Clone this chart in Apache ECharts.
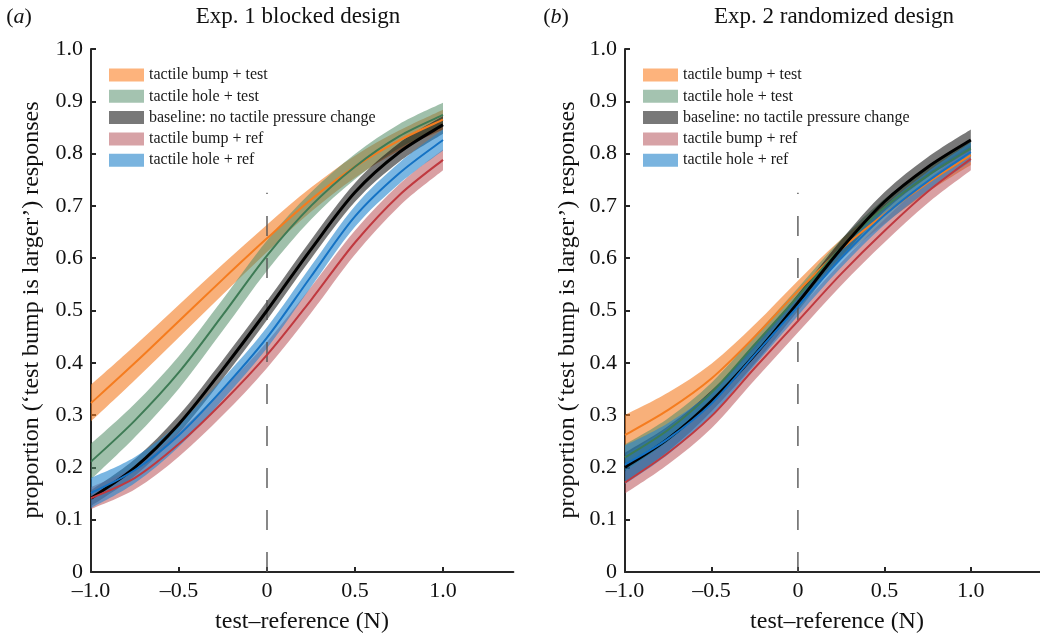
<!DOCTYPE html>
<html><head><meta charset="utf-8">
<script src="https://cdn.jsdelivr.net/npm/echarts@6/dist/echarts.min.js"></script>
<style>html,body{margin:0;padding:0;background:#fff}#c{width:1040px;height:636px}</style>
</head><body><div id="c"></div>
<script>
// ---------- data ----------
const xs = [-1, -0.75, -0.5, -0.25, 0, 0.25, 0.5, 0.75, 1];
const names = ['tactile bump + test', 'tactile hole + test', 'baseline: no tactile pressure change', 'tactile bump + ref', 'tactile hole + ref'];
const xTicks = [-1, -0.5, 0, 0.5, 1];
const refX = [0, 0];
const refY = [0, 0.725];

// Panel (a) Exp. 1 blocked design
const bumpTestA_mid = [0.323, 0.400, 0.480, 0.560, 0.638, 0.712, 0.775, 0.825, 0.865];
const bumpTestA_lo  = [0.288, 0.367, 0.449, 0.531, 0.612, 0.689, 0.754, 0.806, 0.846];
const bumpTestA_hi  = [0.358, 0.433, 0.511, 0.589, 0.664, 0.735, 0.796, 0.844, 0.884];
const holeTestA_mid = [0.211, 0.290, 0.382, 0.492, 0.605, 0.700, 0.775, 0.833, 0.874];
const holeTestA_lo  = [0.177, 0.258, 0.351, 0.462, 0.576, 0.674, 0.751, 0.810, 0.851];
const holeTestA_hi  = [0.245, 0.322, 0.413, 0.522, 0.634, 0.726, 0.799, 0.856, 0.897];
const baseA_mid     = [0.141, 0.200, 0.283, 0.388, 0.500, 0.617, 0.726, 0.802, 0.855];
const baseA_lo      = [0.126, 0.184, 0.266, 0.370, 0.482, 0.599, 0.708, 0.784, 0.838];
const baseA_hi      = [0.156, 0.216, 0.300, 0.406, 0.518, 0.635, 0.744, 0.820, 0.872];
const bumpRefA_mid  = [0.141, 0.180, 0.245, 0.325, 0.415, 0.520, 0.630, 0.720, 0.788];
const bumpRefA_lo   = [0.120, 0.158, 0.221, 0.300, 0.390, 0.495, 0.607, 0.699, 0.768];
const bumpRefA_hi   = [0.162, 0.202, 0.269, 0.350, 0.440, 0.545, 0.653, 0.741, 0.808];
const holeRefA_mid  = [0.151, 0.195, 0.262, 0.350, 0.448, 0.565, 0.680, 0.762, 0.826];
const holeRefA_lo   = [0.122, 0.170, 0.240, 0.330, 0.428, 0.545, 0.660, 0.742, 0.806];
const holeRefA_hi   = [0.180, 0.220, 0.284, 0.370, 0.468, 0.585, 0.700, 0.782, 0.846];

// Panel (b) Exp. 2 randomized design
const bumpTestB_mid = [0.262, 0.310, 0.370, 0.450, 0.537, 0.617, 0.684, 0.744, 0.797];
const bumpTestB_lo  = [0.224, 0.277, 0.342, 0.427, 0.517, 0.598, 0.666, 0.726, 0.778];
const bumpTestB_hi  = [0.300, 0.343, 0.398, 0.473, 0.557, 0.636, 0.702, 0.762, 0.816];
const holeTestB_mid = [0.219, 0.272, 0.343, 0.435, 0.527, 0.620, 0.697, 0.758, 0.810];
const holeTestB_lo  = [0.194, 0.250, 0.324, 0.418, 0.511, 0.604, 0.681, 0.742, 0.794];
const holeTestB_hi  = [0.244, 0.294, 0.362, 0.452, 0.543, 0.636, 0.713, 0.774, 0.826];
const baseB_mid     = [0.200, 0.255, 0.327, 0.415, 0.515, 0.618, 0.708, 0.774, 0.826];
const baseB_lo      = [0.172, 0.231, 0.307, 0.398, 0.499, 0.601, 0.690, 0.755, 0.806];
const baseB_hi      = [0.228, 0.279, 0.347, 0.432, 0.531, 0.635, 0.726, 0.793, 0.846];
const bumpRefB_mid  = [0.171, 0.228, 0.298, 0.390, 0.480, 0.570, 0.652, 0.727, 0.790];
const bumpRefB_lo   = [0.150, 0.206, 0.275, 0.367, 0.458, 0.548, 0.630, 0.705, 0.768];
const bumpRefB_hi   = [0.192, 0.250, 0.321, 0.413, 0.502, 0.592, 0.674, 0.749, 0.812];
const holeRefB_mid  = [0.205, 0.255, 0.322, 0.415, 0.508, 0.600, 0.682, 0.747, 0.803];
const holeRefB_lo   = [0.168, 0.225, 0.299, 0.395, 0.490, 0.582, 0.664, 0.729, 0.785];
const holeRefB_hi   = [0.242, 0.285, 0.345, 0.435, 0.526, 0.618, 0.700, 0.765, 0.821];

// ---------- styles ----------
const FONT = 'Liberation Serif';
const bandColors = ['rgba(243,123,33,0.6)', 'rgba(82,141,102,0.55)', 'rgba(10,10,10,0.55)', 'rgba(179,65,71,0.5)', 'rgba(33,133,207,0.6)'];
const lineColors = ['#f57c1f', '#3e7b55', '#000000', '#c0393f', '#1472c4'];
const lineWidths = [2, 2, 3, 2, 2];
const swatch = ['#fdb37c', '#a4c3b0', '#787878', '#d7a2a6', '#7ab4df'];
const drawOrder = [0, 1, 2, 3, 4];

function catmull(pts) {
  let d = '';
  for (let i = 0; i < pts.length - 1; i++) {
    const p0 = pts[Math.max(i - 1, 0)], p1 = pts[i], p2 = pts[i + 1], p3 = pts[Math.min(i + 2, pts.length - 1)];
    const c1 = [p1[0] + (p2[0] - p0[0]) / 6, p1[1] + (p2[1] - p0[1]) / 6];
    const c2 = [p2[0] - (p3[0] - p1[0]) / 6, p2[1] - (p3[1] - p1[1]) / 6];
    d += ' C' + c1[0] + ',' + c1[1] + ' ' + c2[0] + ',' + c2[1] + ' ' + p2[0] + ',' + p2[1];
  }
  return d;
}

function bandSeries(p, k, lo, hi) {
  return {
    type: 'custom', name: names[k], xAxisIndex: p, yAxisIndex: p, z: 2, silent: true,
    itemStyle: { color: swatch[k] },
    data: xs.map((x, i) => [x, lo[i], hi[i]]),
    encode: { x: 0, y: [1, 2] },
    renderItem: function (params, api) {
      if (params.dataIndex !== 0) return null;
      const up = xs.map((x, i) => api.coord([x, hi[i]]));
      const dn = xs.map((x, i) => api.coord([x, lo[i]])).reverse();
      const d = 'M' + up[0][0] + ',' + up[0][1] + catmull(up) + ' L' + dn[0][0] + ',' + dn[0][1] + catmull(dn) + ' Z';
      return { type: 'path', shape: { pathData: d }, style: { fill: bandColors[k], stroke: null } };
    }
  };
}
function lineSeries(p, k, mid) {
  return {
    type: 'custom', name: names[k], xAxisIndex: p, yAxisIndex: p, z: 4, silent: true,
    itemStyle: { color: swatch[k] },
    data: xs.map((x, i) => [x, mid[i]]),
    encode: { x: 0, y: 1 },
    renderItem: function (params, api) {
      if (params.dataIndex !== 0) return null;
      const pts = xs.map((x, i) => api.coord([x, mid[i]]));
      const d = 'M' + pts[0][0] + ',' + pts[0][1] + catmull(pts);
      return { type: 'path', shape: { pathData: d }, style: { fill: null, stroke: lineColors[k], lineWidth: lineWidths[k], lineCap: 'butt' } };
    }
  };
}

const series = [];
function addPanel(p, mids, los, his) {
  drawOrder.forEach(k => series.push(bandSeries(p, k, los[k], his[k])));
  series.push({
    type: 'line', xAxisIndex: p, yAxisIndex: p, z: 3, silent: true, symbol: 'none',
    data: refX.map((x, i) => [x, refY[i]]),
    lineStyle: { color: '#555555', width: 1.4, type: [20, 22] }
  });
  drawOrder.forEach(k => series.push(lineSeries(p, k, mids[k])));
}
addPanel(0,
  [bumpTestA_mid, holeTestA_mid, baseA_mid, bumpRefA_mid, holeRefA_mid],
  [bumpTestA_lo, holeTestA_lo, baseA_lo, bumpRefA_lo, holeRefA_lo],
  [bumpTestA_hi, holeTestA_hi, baseA_hi, bumpRefA_hi, holeRefA_hi]);
addPanel(1,
  [bumpTestB_mid, holeTestB_mid, baseB_mid, bumpRefB_mid, holeRefB_mid],
  [bumpTestB_lo, holeTestB_lo, baseB_lo, bumpRefB_lo, holeRefB_lo],
  [bumpTestB_hi, holeTestB_hi, baseB_hi, bumpRefB_hi, holeRefB_hi]);

const axisLine = { show: true, onZero: false, lineStyle: { color: '#262626', width: 2 } };
function xAxis(i) {
  return {
    type: 'value', gridIndex: i, min: -1, max: 1.4, interval: 0.5,
    axisLine: axisLine, splitLine: { show: false },
    axisTick: { show: true, inside: true, length: 5, lineStyle: { color: '#262626', width: 2 }, customValues: xTicks },
    axisLabel: { customValues: xTicks, margin: 8, fontFamily: FONT, fontSize: 22, color: '#111',
      formatter: v => v === 0 ? '0' : (v < 0 ? '\u2013' + Math.abs(v).toFixed(1) : v.toFixed(1)) }
  };
}
function yAxis(i) {
  return {
    type: 'value', gridIndex: i, min: 0, max: 1, interval: 0.1,
    axisLine: axisLine, splitLine: { show: false },
    axisTick: { show: true, inside: true, length: 5, lineStyle: { color: '#262626', width: 2 } },
    axisLabel: { margin: 8, fontFamily: FONT, fontSize: 22, color: '#111',
      formatter: v => v === 0 ? '0' : v.toFixed(1) }
  };
}
function legend(left) {
  return {
    left: left, top: 62, orient: 'vertical', icon: 'rect', itemWidth: 35, itemHeight: 13, itemGap: 5.3,
    selectedMode: false,
    textStyle: { fontFamily: FONT, fontSize: 16, color: '#1a1a1a', lineHeight: 13 },
    data: names.map((n, k) => ({ name: n, itemStyle: { color: swatch[k] } }))
  };
}
function txt(x, y, text, size, extra) {
  return Object.assign({ type: 'text', x: x, y: y, silent: true,
    style: { text: text, fontFamily: FONT, fontSize: size, fill: '#111', align: 'center', verticalAlign: 'middle',
      rich: { i: { fontFamily: FONT, fontSize: size, fontStyle: 'italic', fill: '#111' } } } }, extra || {});
}

const chart = echarts.init(document.getElementById('c'), null, { renderer: 'canvas' });
chart.setOption({
  animation: false,
  backgroundColor: '#ffffff',
  grid: [
    { left: 91, top: 49, width: 422.4, height: 523 },
    { left: 625, top: 49, width: 423.6, height: 523 }
  ],
  xAxis: [xAxis(0), xAxis(1)],
  yAxis: [yAxis(0), yAxis(1)],
  legend: [legend(104), legend(638)],
  series: series,
  graphic: [
    txt(19, 17, '({i|a})', 22),
    txt(298, 17, 'Exp. 1 blocked design', 23),
    txt(556, 17, '({i|b})', 22),
    txt(834, 17, 'Exp. 2 randomized design', 23),
    txt(32, 310, 'proportion (\u2018test bump is larger\u2019) responses', 24, { rotation: Math.PI / 2 }),
    txt(568, 310, 'proportion (\u2018test bump is larger\u2019) responses', 24, { rotation: Math.PI / 2 }),
    txt(302, 622, 'test\u2013reference (N)', 24),
    txt(837, 622, 'test\u2013reference (N)', 24)
  ]
});
</script>
</body></html>
